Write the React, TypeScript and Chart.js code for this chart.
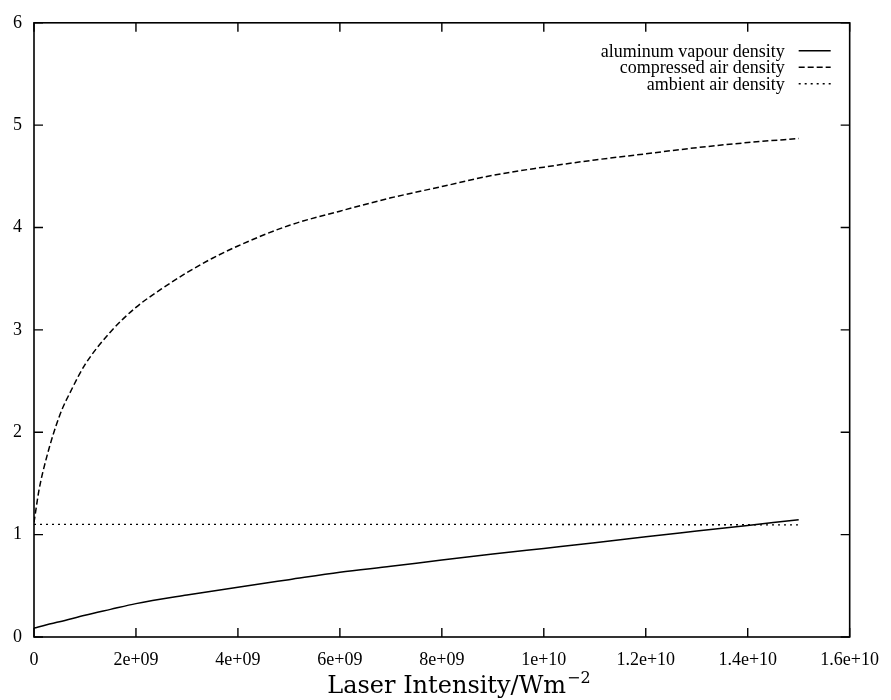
import React, { useEffect, useRef } from "react";
import { Chart, registerables } from "chart.js";

Chart.register(...registerables);

// ---- data (x in W m^-2, y in density units) ----
const seriesLabels = ["aluminum vapour density", "compressed air density", "ambient air density"];

const aluminumX = [0, 0.25e9, 0.5e9, 1e9, 1.5e9, 2e9, 3e9, 4e9, 5e9, 6e9, 7e9, 8e9, 9e9, 10e9, 11e9, 12e9, 13e9, 14e9, 15e9];
const aluminumY = [0.087, 0.12, 0.148, 0.213, 0.27, 0.326, 0.41, 0.487, 0.56, 0.632, 0.69, 0.752, 0.81, 0.865, 0.92, 0.98, 1.035, 1.09, 1.145];

const compressedX = [0, 0.1e9, 0.25e9, 0.5e9, 0.75e9, 1e9, 1.5e9, 2e9, 2.5e9, 3e9, 3.5e9, 4e9, 5e9, 6e9, 7e9, 8e9, 9e9, 10e9, 11e9, 12e9, 13e9, 14e9, 15e9];
const compressedY = [1.12, 1.44, 1.76, 2.16, 2.43, 2.66, 2.98, 3.22, 3.4, 3.56, 3.7, 3.82, 4.02, 4.16, 4.29, 4.4, 4.51, 4.59, 4.66, 4.72, 4.78, 4.83, 4.87];

const ambientX = [0, 5e9, 10e9, 15e9];
const ambientY = [1.1, 1.1, 1.1, 1.095];

const xTicksMin = 0;
const xTicksMax = 1.6e10;
const xTickStep = 2e9;
const yTicksMin = 0;
const yTicksMax = 6;
const yTickStep = 1;

const xTitleMain = "Laser Intensity/Wm";
const xTitleSup = "\u22122";

const toPoints = (xs: number[], ys: number[]) => xs.map((x, i) => ({ x, y: ys[i] }));

function gfmt(v: number): string {
  if (v === 0) return "0";
  const e = Math.floor(Math.log10(Math.abs(v)) + 1e-9);
  const m = +(v / Math.pow(10, e)).toFixed(6);
  return `${m}e+${String(e).padStart(2, "0")}`;
}

const SERIF = "'Liberation Serif', 'Times New Roman', serif";

const framePlugin = {
  id: "gnuplotFrame",
  afterDraw(chart: any) {
    const { ctx, chartArea } = chart;
    const { left, right, top, bottom } = chartArea;
    ctx.save();
    ctx.strokeStyle = "#000";
    ctx.lineWidth = 1.6;
    ctx.setLineDash([]);
    ctx.strokeRect(left, top, right - left, bottom - top);
    const tl = 9;
    ctx.lineWidth = 1.4;
    const xs = chart.scales.x;
    xs.ticks.forEach((t: any) => {
      const px = xs.getPixelForValue(t.value);
      ctx.beginPath();
      ctx.moveTo(px, bottom);
      ctx.lineTo(px, bottom - tl);
      ctx.moveTo(px, top);
      ctx.lineTo(px, top + tl);
      ctx.stroke();
    });
    const ys = chart.scales.y;
    ys.ticks.forEach((t: any) => {
      const py = ys.getPixelForValue(t.value);
      ctx.beginPath();
      ctx.moveTo(left, py);
      ctx.lineTo(left + tl, py);
      ctx.moveTo(right, py);
      ctx.lineTo(right - tl, py);
      ctx.stroke();
    });

    // legend (gnuplot style: right-aligned text, sample on the right)
    ctx.font = `18px ${SERIF}`;
    ctx.fillStyle = "#000";
    ctx.textAlign = "right";
    ctx.textBaseline = "alphabetic";
    chart.data.datasets.forEach((ds: any, i: number) => {
      const baseY = top + 34 + i * 16.5;
      ctx.fillText(ds.label, right - 65, baseY);
      ctx.save();
      ctx.strokeStyle = "#000";
      ctx.lineWidth = 1.4;
      ctx.setLineDash(ds.borderDash || []);
      ctx.beginPath();
      ctx.moveTo(right - 51, baseY - 6);
      ctx.lineTo(right - 19, baseY - 6);
      ctx.stroke();
      ctx.restore();
    });

    // axis title with superscript
    const mainFont = `24px 'DejaVu Serif', serif`;
    const supFont = `16px 'DejaVu Serif', serif`;
    ctx.font = mainFont;
    const w1 = ctx.measureText(xTitleMain).width;
    ctx.font = supFont;
    const w2 = ctx.measureText(xTitleSup).width;
    const cx = left + 0.521 * (right - left);
    const x0 = cx - (w1 + w2 + 1) / 2;
    const base = bottom + 56;
    ctx.textAlign = "left";
    ctx.font = mainFont;
    ctx.fillText(xTitleMain, x0, base);
    ctx.font = supFont;
    ctx.fillText(xTitleSup, x0 + w1 + 1, base - 10);
    ctx.restore();
  },
};

export default function App() {
  const ref = useRef<HTMLCanvasElement | null>(null);

  useEffect(() => {
    if (!ref.current) return;
    const chart = new Chart(ref.current, {
      type: "line",
      data: {
        datasets: [
          {
            label: seriesLabels[0],
            data: toPoints(aluminumX, aluminumY),
            borderColor: "#000",
            borderWidth: 1.5,
            borderDash: [],
            pointRadius: 0,
            cubicInterpolationMode: "monotone",
            fill: false,
          },
          {
            label: seriesLabels[1],
            data: toPoints(compressedX, compressedY),
            borderColor: "#000",
            borderWidth: 1.5,
            borderDash: [6, 3],
            pointRadius: 0,
            cubicInterpolationMode: "monotone",
            fill: false,
          },
          {
            label: seriesLabels[2],
            data: toPoints(ambientX, ambientY),
            borderColor: "#000",
            borderWidth: 1.4,
            borderDash: [2, 4],
            pointRadius: 0,
            fill: false,
          },
        ],
      },
      options: {
        animation: false,
        responsive: false,
        devicePixelRatio: 1,
        layout: { padding: { left: 0, top: 17, right: 38, bottom: 0 } },
        plugins: { legend: { display: false }, tooltip: { enabled: false } },
        scales: {
          x: {
            type: "linear",
            min: xTicksMin,
            max: xTicksMax,
            grid: { display: false, drawTicks: false },
            border: { display: false },
            ticks: {
              stepSize: xTickStep,
              padding: 12,
              color: "#000",
              font: { family: SERIF, size: 18 },
              maxRotation: 0,
              autoSkip: false,
              callback: (v: any) => gfmt(Number(v)),
            },
            afterFit: (s: any) => {
              s.height = 63;
            },
          },
          y: {
            type: "linear",
            min: yTicksMin,
            max: yTicksMax,
            grid: { display: false, drawTicks: false },
            border: { display: false },
            ticks: {
              stepSize: yTickStep,
              padding: 12,
              color: "#000",
              font: { family: SERIF, size: 18 },
              callback: (v: any) => String(v),
            },
            afterFit: (s: any) => {
              s.width = 34;
            },
          },
        },
      },
      plugins: [framePlugin],
    });
    return () => chart.destroy();
  }, []);

  return (
    <div style={{ position: "absolute", left: 0, top: 0, width: 891, height: 700, background: "#fff" }}>
      <canvas ref={ref} width={891} height={700} style={{ width: 891, height: 700, display: "block" }} />
    </div>
  );
}
